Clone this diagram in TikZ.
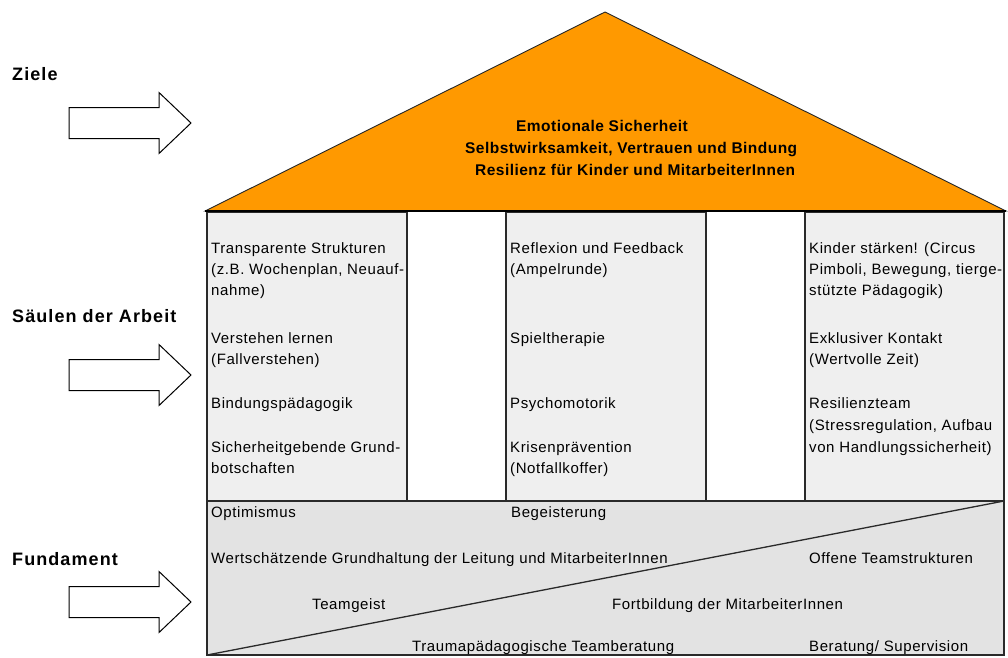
\documentclass[tikz,border=0pt]{standalone}
\usepackage{fontspec}
\setmainfont{Liberation Sans}
\newfontfamily\txtfont[LetterSpace=4]{Liberation Sans}
\newfontfamily\boldfont[LetterSpace=3]{Liberation Sans Bold}
\newfontfamily\lblfont[LetterSpace=6]{Liberation Sans Bold}
\definecolor{roofc}{HTML}{FF9900}
\definecolor{pilc}{HTML}{EFEFEF}
\definecolor{fundc}{HTML}{E3E3E3}
\definecolor{linec}{HTML}{2A2A2A}
\begin{document}
\begin{tikzpicture}[x=1pt,y=-1pt,
  ptxt/.style={anchor=base west, inner sep=0pt, font=\txtfont\fontsize{15}{18}\selectfont},
  rooftxt/.style={anchor=base west, inner sep=0pt, font=\boldfont\fontsize{15.5}{18}\selectfont},
  lbl/.style={anchor=base west, inner sep=0pt, font=\lblfont\fontsize{18}{20}\selectfont},
  pillar/.style={fill=pilc, draw=linec, line width=1.4pt},
  fundament/.style={fill=fundc, draw=linec, line width=1.4pt},
  arrowstyle/.style={fill=white, draw=black, line width=1pt, line join=miter},
  blockarrow/.pic={\draw[arrowstyle] (0,-15.5) -- (90,-15.5) -- (90,-30.5) -- (122,0) -- (90,30.5) -- (90,15.5) -- (0,15.5) -- cycle;}
]
\useasboundingbox (0,0) rectangle (1008,657);
% foundation
\draw[fundament] (207,501) rectangle (1004,655);
\draw[line width=1.3pt, draw=linec] (207,655) -- (1004,501);
% pillars
\draw[pillar] (207,212) rectangle (407,501);
\draw[pillar] (506,212) rectangle (706,501);
\draw[pillar] (805,212) rectangle (1004,501);
% roof
\draw[fill=roofc, draw=black!85, line width=0.9pt, line join=miter] (205,211) -- (605,12) -- (1006,211) -- cycle;
\draw[line width=2.6pt, black] (205,211) -- (1006,211);
% arrows
\pic at (69,123) {blockarrow};
\pic at (69,375) {blockarrow};
\pic at (69,602) {blockarrow};
% side labels
\node[lbl] (ziele) at (12,80) {Ziele};
\node[lbl] (saeulen) at (12,322) {Säulen der Arbeit};
\node[lbl] (fundament) at (12,565) {Fundament};
% roof text
\node[rooftxt] (r1) at (516,131) {Emotionale Sicherheit};
\node[rooftxt] (r2) at (465,153) {Selbstwirksamkeit, Vertrauen und Bindung};
\node[rooftxt] (r3) at (475,175) {Resilienz für Kinder und MitarbeiterInnen};
% left pillar
\node[ptxt] (a1) at (211,253) {Transparente Strukturen};
\node[ptxt] (a2) at (211,274) {(z.B. Wochenplan, Neuauf-};
\node[ptxt] (a3) at (211,295) {nahme)};
\node[ptxt] (a4) at (211,343) {Verstehen lernen};
\node[ptxt] (a5) at (211,364) {(Fallverstehen)};
\node[ptxt] (a6) at (211,408) {Bindungspädagogik};
\node[ptxt] (a7) at (211,452) {Sicherheitgebende Grund-};
\node[ptxt] (a8) at (211,473) {botschaften};
% middle pillar
\node[ptxt] (b1) at (510,253) {Reflexion und Feedback};
\node[ptxt] (b2) at (510,274) {(Ampelrunde)};
\node[ptxt] (b3) at (510,343) {Spieltherapie};
\node[ptxt] (b4) at (510,408) {Psychomotorik};
\node[ptxt] (b5) at (510,452) {Krisenprävention};
\node[ptxt] (b6) at (510,473) {(Notfallkoffer)};
% right pillar
\node[ptxt] (c1) at (809,253) {Kinder stärken! (Circus};
\node[ptxt] (c2) at (809,274) {Pimboli, Bewegung, tierge-};
\node[ptxt] (c3) at (809,295) {stützte Pädagogik)};
\node[ptxt] (c4) at (809,343) {Exklusiver Kontakt};
\node[ptxt] (c5) at (809,364) {(Wertvolle Zeit)};
\node[ptxt] (c6) at (809,408) {Resilienzteam};
\node[ptxt] (c7) at (809,430) {(Stressregulation, Aufbau};
\node[ptxt] (c8) at (809,452) {von Handlungssicherheit)};
% foundation text
\node[ptxt] (f1) at (211,517) {Optimismus};
\node[ptxt] (f2) at (511,517) {Begeisterung};
\node[ptxt] (f3) at (211,563) {Wertschätzende Grundhaltung der Leitung und MitarbeiterInnen};
\node[ptxt] (f4) at (809,563) {Offene Teamstrukturen};
\node[ptxt] (f5) at (312,609) {Teamgeist};
\node[ptxt] (f6) at (612,609) {Fortbildung der MitarbeiterInnen};
\node[ptxt] (f7) at (412,651) {Traumapädagogische Teamberatung};
\node[ptxt] (f8) at (809,651) {Beratung/ Supervision};
\end{tikzpicture}
\end{document}
